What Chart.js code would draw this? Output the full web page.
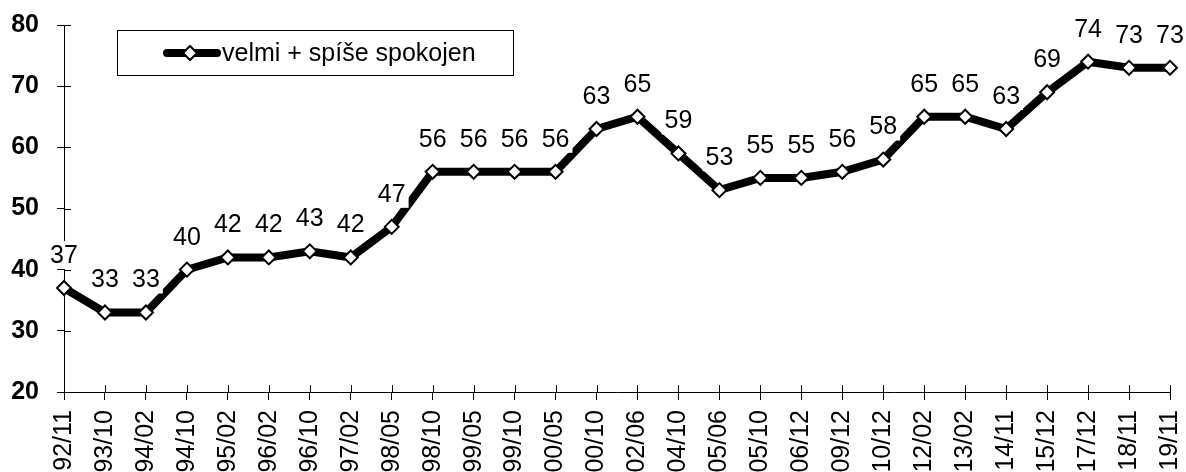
<!DOCTYPE html>
<html><head><meta charset="utf-8">
<script src="https://cdn.jsdelivr.net/npm/chart.js@4"></script>
<style>html,body{margin:0;padding:0;background:#fff;overflow:hidden}#w{width:1186px;height:472px}</style>
</head><body><div id="w"><canvas id="c"></canvas></div>
<script>
const categories = ["92/11","93/10","94/02","94/10","95/02","96/02","96/10","97/02","98/05","98/10","99/05","99/10","00/05","00/10","02/06","04/10","05/06","05/10","06/12","09/12","10/12","12/02","13/02","14/11","15/12","17/12","18/11","19/11"];
const satisfied = [37,33,33,40,42,42,43,42,47,56,56,56,56,63,65,59,53,55,55,56,58,65,65,63,69,74,73,73];
const yTicks = [20,30,40,50,60,70,80];
const seriesName = "velmi + spíše spokojen";
const FONT = "'Liberation Sans', Arial, sans-serif";

const labelPlugin = {
  id: 'labels',
  afterDatasetsDraw(chart) {
    const ctx = chart.ctx;
    const meta = chart.getDatasetMeta(0);
    ctx.save();
    ctx.font = "25px " + FONT;
    ctx.textAlign = 'center';
    ctx.textBaseline = 'middle';
    meta.data.forEach((pt, i) => {
      const t = String(satisfied[i]);
      const w = ctx.measureText(t).width;
      const x = pt.x, y = pt.y - 33;
      ctx.fillStyle = '#fff';
      ctx.fillRect(x - w/2 - 3, y - 14, w + 6, 28);
      ctx.fillStyle = '#000';
      ctx.fillText(t, x, y + 1);
    });
    // inner tick marks
    const xs = chart.scales.x, ys = chart.scales.y;
    ctx.strokeStyle = '#000'; ctx.lineWidth = 1;
    ctx.beginPath();
    categories.forEach((c, i) => {
      const px = Math.round(xs.getPixelForValue(i)) + 0.5;
      ctx.moveTo(px, ys.bottom); ctx.lineTo(px, ys.bottom - 7);
    });
    yTicks.forEach(v => {
      const py = Math.round(ys.getPixelForValue(v)) + 0.5;
      ctx.moveTo(xs.left, py); ctx.lineTo(xs.left + 7, py);
    });
    ctx.stroke();
    // legend
    const lx = 117.5, ly = 30.5, lw = 396, lh = 45;
    ctx.fillStyle = '#fff';
    ctx.fillRect(lx, ly, lw, lh);
    ctx.strokeStyle = '#000';
    ctx.strokeRect(lx, ly, lw, lh);
    const cy = ly + lh/2;
    ctx.lineWidth = 8; ctx.lineCap = 'round';
    ctx.beginPath(); ctx.moveTo(167, cy); ctx.lineTo(217, cy); ctx.stroke();
    ctx.lineCap = 'butt';
    ctx.lineWidth = 2;
    ctx.beginPath();
    ctx.moveTo(183, cy); ctx.lineTo(190, cy - 7); ctx.lineTo(197, cy); ctx.lineTo(190, cy + 7); ctx.closePath();
    ctx.fillStyle = '#fff'; ctx.fill(); ctx.stroke();
    ctx.fillStyle = '#000';
    ctx.font = "25px " + FONT;
    ctx.textAlign = 'left';
    ctx.fillText(seriesName, 222, cy + 1);
    ctx.restore();
  }
};

new Chart(document.getElementById('c'), {
  type: 'line',
  data: {
    labels: categories,
    datasets: [{
      label: seriesName,
      data: satisfied,
      borderColor: '#000',
      borderWidth: 8,
      tension: 0,
      pointStyle: 'rectRot',
      pointRadius: 7,
      pointBackgroundColor: '#fff',
      pointBorderColor: '#000',
      pointBorderWidth: 2
    }]
  },
  options: {
    responsive: true,
    maintainAspectRatio: false,
    animation: false,
    layout: { padding: { top: 25, right: 16, left: 0, bottom: 0 } },
    plugins: { legend: { display: false }, tooltip: { enabled: false } },
    scales: {
      x: {
        offset: false,
        grid: { drawOnChartArea: false, color: '#000', tickLength: 8 },
        border: { color: '#000', width: 1 },
        ticks: { color: '#000', font: { family: FONT, size: 25 }, minRotation: 90, maxRotation: 90, autoSkip: false, padding: 10 },
        afterFit(s) { s.height = 80; s.paddingLeft = 0; s.paddingRight = 0; }
      },
      y: {
        min: 20, max: 80,
        afterBuildTicks(s) { s.ticks = yTicks.map(v => ({ value: v })); },
        grid: { drawOnChartArea: false, color: '#000', tickLength: 7 },
        border: { color: '#000', width: 1 },
        ticks: { color: '#000', font: { family: FONT, size: 25, weight: 'bold' }, padding: 18 },
        afterFit(s) { s.width = 64; s.paddingTop = 0; s.paddingBottom = 0; }
      }
    }
  },
  plugins: [labelPlugin]
});
</script></body></html>
